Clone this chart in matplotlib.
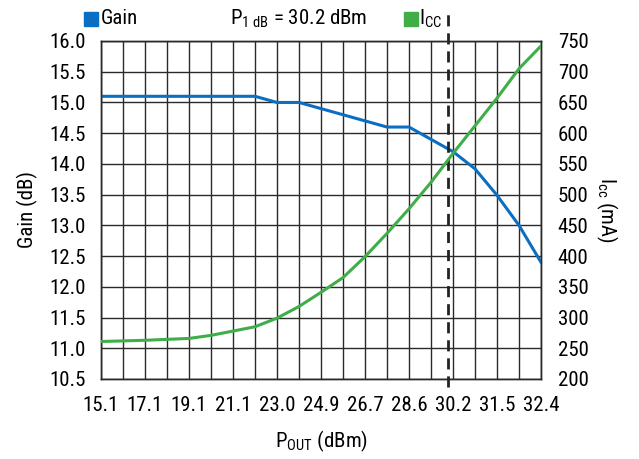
import numpy as np
import matplotlib
matplotlib.use('Agg')
import matplotlib.pyplot as plt
from matplotlib import font_manager
from matplotlib.patches import Rectangle

# pick the narrowest sans family that is installed
installed = set(f.name for f in font_manager.fontManager.ttflist)
family = 'DejaVu Sans'
for name in ['Roboto Condensed', 'Liberation Sans Narrow', 'Arial Narrow', 'Roboto', 'Liberation Sans']:
    if name in installed:
        family = name
        break
plt.rcParams['font.family'] = [family, 'DejaVu Sans']
plt.rcParams['mathtext.fontset'] = 'custom'
plt.rcParams['mathtext.rm'] = family
plt.rcParams['mathtext.it'] = family

# tick labels along P_OUT (categorical, evenly spaced)
pout_labels = ['15.1', '17.1', '19.1', '21.1', '23.0', '24.9', '26.7', '28.6', '30.2', '31.5', '32.4']
# curves sampled at every grid line (half a label step)
x_pts = [0, 0.5, 1, 1.5, 2, 2.5, 3, 3.5, 4, 4.5, 5, 5.5, 6, 6.5, 7, 7.5, 8, 8.5, 9, 9.5, 10]
gain = [15.1, 15.1, 15.1, 15.1, 15.1, 15.1, 15.1, 15.1, 15.0, 15.0, 14.9, 14.8, 14.7, 14.6,
        14.6, 14.4, 14.2, 13.92, 13.49, 13.0, 12.4]
icc = [261, 262, 263, 264.5, 266, 271, 278, 285, 299, 318, 341, 365, 399, 437, 477, 520,
       567, 612, 657, 705, 742]
p1db_pos = 7.88

fig = plt.figure(figsize=(6.39, 4.59), dpi=100)
fig.subplots_adjust(left=101/639, right=541/639, top=1-41/459, bottom=1-379/459)
ax = fig.add_subplot(111)
ax2 = ax.twinx()

ax.set_xlim(0, 10)
ax.set_ylim(10.5, 16.0)
ax2.set_ylim(200, 750)

ax.set_xticks(np.arange(0, 11))
ax.set_xticklabels(pout_labels)
ax.set_xticks(np.arange(0.5, 10, 1), minor=True)
ax.set_yticks(np.arange(10.5, 16.01, 0.5))
ax.set_yticklabels(['%.1f' % v for v in np.arange(10.5, 16.01, 0.5)])
ax2.set_yticks(np.arange(200, 751, 50))

ax.grid(True, which='both', color='#2a2a2a', linewidth=1.0)
ax.set_axisbelow(True)
for a in (ax, ax2):
    a.tick_params(which='both', length=0, labelsize=15)
    for s in a.spines.values():
        s.set_color('#2a2a2a')
        s.set_linewidth(1.0)
ax.tick_params(axis='y', pad=11)
ax.tick_params(axis='x', pad=12)
ax2.tick_params(axis='y', pad=12)

ax.plot(x_pts, gain, color='#0a6fc2', linewidth=2.2, zorder=3)
ax2.plot(x_pts, icc, color='#3fae49', linewidth=2.2, zorder=3)

ax.plot([p1db_pos, p1db_pos], [10.37, 16.47], color='#222222', linewidth=2,
        linestyle=(0, (4, 2.5)), clip_on=False, zorder=4)

ax.set_ylabel('Gain (dB)', fontsize=15, labelpad=8)
ax2.set_ylabel('I$_{cc}$ (mA)', fontsize=15, rotation=270, labelpad=22)
ax.set_xlabel('P$_{OUT}$ (dBm)', fontsize=15, labelpad=10)

# legend-like header
fig.patches.append(Rectangle((84/639, 1-26/459), 14/639, 14/459, transform=fig.transFigure,
                             color='#0a6fc2'))
fig.text(101/639, 1-19/459, 'Gain', fontsize=15, va='center', ha='left')
fig.patches.append(Rectangle((404/639, 1-26/459), 14/639, 14/459, transform=fig.transFigure,
                             color='#3fae49'))
fig.text(419/639, 1-19/459, 'I$_{CC}$', fontsize=15, va='center', ha='left')
fig.text(299/639, 1-19/459, 'P$_{1\\ dB}$ = 30.2 dBm', fontsize=15, va='center', ha='center')

plt.savefig('out.png', dpi=100)
